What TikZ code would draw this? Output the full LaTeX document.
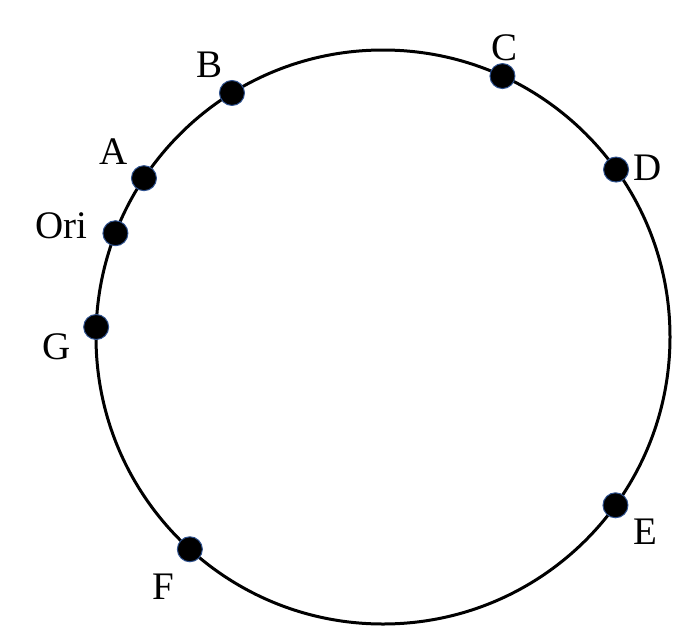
\documentclass[tikz,border=0pt]{standalone}
\usepackage{fontspec}
\setmainfont{Liberation Serif}
\usetikzlibrary{calc}
\definecolor{dotedge}{RGB}{47,82,143}
\begin{document}
\begin{tikzpicture}[x=1pt,y=-1pt,
  ring/.style={line width=3pt, draw=black},
  pt/.style={circle, fill=black, draw=dotedge, line width=1pt, minimum size=25pt, inner sep=0pt},
  lbl/.style={font=\fontsize{39}{42}\selectfont, inner sep=0pt}]
\useasboundingbox (0,0) rectangle (696,643);
\coordinate (O) at (383,337);
\draw[ring] (O) circle (287pt);
\node[pt] (B) at ($(O)+(121.75:287pt)$) {};
\node[pt] (C) at ($(O)+(65.4:287pt)$) {};
\node[pt] (D) at ($(O)+(35.7:287pt)$) {};
\node[pt] (E) at ($(O)+(-35.9:287pt)$) {};
\node[pt] (F) at ($(O)+(-132.3:287pt)$) {};
\node[pt] (G) at ($(O)+(178:287pt)$) {};
\node[pt] (Ori) at ($(O)+(158.8:287pt)$) {};
\node[pt] (A) at ($(O)+(146.4:287pt)$) {};
\node[lbl] (lB) at (210,65) {B};
\node[lbl] (lA) at (114,152) {A};
\node[lbl] (lOri) at (61,226) {Ori};
\node[lbl] (lG) at (57,347) {G};
\node[lbl] (lC) at (505,48) {C};
\node[lbl] (lD) at (648,168) {D};
\node[lbl] (lE) at (645,532) {E};
\node[lbl] (lF) at (163,587) {F};
\end{tikzpicture}
\end{document}
